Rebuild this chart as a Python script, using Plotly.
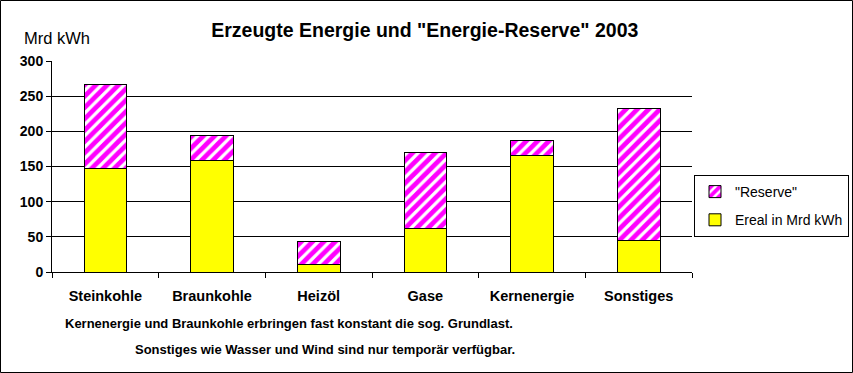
import plotly.graph_objects as go

categories = ["Steinkohle", "Braunkohle", "Heizöl", "Gase", "Kernenergie", "Sonstiges"]
ereal = [147, 158, 11, 62, 165, 45]
reserve = [120, 36, 33, 108, 22, 187]
y_ticks = [0, 50, 100, 150, 200, 250, 300]

W, H = 853, 373
L, R, T, B = 52, 161, 61, 101
pw, ph = W - L - R, H - T - B

def px_x(px):
    return (px - L) / pw

def px_y(py):
    return (H - B - py) / ph

FONT = "Liberation Sans, Arial, sans-serif"
NARROW = "Liberation Sans Narrow, Arial Narrow, Liberation Sans"

fig = go.Figure()
fig.add_trace(go.Bar(
    x=categories, y=ereal, name="Ereal in Mrd kWh", legendgroup="a", legendrank=2,
    marker=dict(color="#FFFF00", line=dict(color="black", width=1)),
    width=0.4,
))
fig.add_trace(go.Bar(
    x=categories, y=reserve, name="\"Reserve\"", legendgroup="b", legendrank=1,
    marker=dict(color="white", line=dict(color="black", width=1),
                pattern=dict(shape="/", fgcolor="#FF00FF", bgcolor="white",
                             fgopacity=1, size=8, solidity=0.6)),
    width=0.4,
))

fig.update_layout(
    width=W, height=H,
    margin=dict(l=L, r=R, t=T, b=B, pad=0, autoexpand=False),
    barmode="stack",
    plot_bgcolor="white", paper_bgcolor="white",
    font=dict(family=FONT, color="black", size=14),
    title=dict(text="<b>Erzeugte Energie und \"Energie-Reserve\" 2003</b>",
               x=0.498, xref="container", xanchor="center",
               y=1 - 30 / H, yref="container", yanchor="middle",
               font=dict(size=19.5, family=FONT, color="black")),
    showlegend=True,
    legend=dict(x=px_x(694), y=px_y(175), xanchor="left", yanchor="top",
                traceorder="grouped", bordercolor="black", borderwidth=1,
                bgcolor="white", font=dict(size=14, family=FONT),
                itemwidth=30, tracegroupgap=7),
    xaxis=dict(type="category", showline=True, linecolor="black", linewidth=1,
               ticks="outside", tickson="boundaries", ticklen=5, tickcolor="black",
               tickfont=dict(size=14.5, family=FONT), ticklabelstandoff=11,
               showgrid=False, range=[-0.5, 5.5],
               tickvals=categories, ticktext=["<b>%s</b>" % c for c in categories]),
    yaxis=dict(range=[0, 300], tickvals=y_ticks, ticktext=["<b>%d</b>" % v for v in y_ticks],
               showline=True, linecolor="black", linewidth=1,
               ticks="outside", ticklen=5, tickcolor="black",
               showgrid=True, gridcolor="black", gridwidth=1,
               tickfont=dict(size=14, family=FONT), zeroline=False),
    annotations=[
        dict(text="Mrd kWh", xref="paper", yref="paper", x=px_x(22), y=px_y(38),
             xanchor="left", yanchor="middle", showarrow=False, font=dict(size=16.5)),
        dict(text="<b>Kernenergie und Braunkohle erbringen fast konstant die sog. Grundlast.</b>",
             xref="paper", yref="paper", x=px_x(63), y=px_y(323.5),
             xanchor="left", yanchor="middle", showarrow=False,
             font=dict(size=13, family=NARROW)),
        dict(text="<b>Sonstiges wie Wasser und Wind sind nur temporär verfügbar.</b>",
             xref="paper", yref="paper", x=px_x(133), y=px_y(349.5),
             xanchor="left", yanchor="middle", showarrow=False,
             font=dict(size=13, family=NARROW)),
    ],
    shapes=[
        dict(type="rect", xref="paper", yref="paper",
             x0=px_x(0.5), x1=px_x(852.5), y0=px_y(372.5), y1=px_y(0.5),
             line=dict(color="black", width=1), fillcolor="rgba(0,0,0,0)", layer="above"),
    ],
)

fig.write_html("out.html", config={"displayModeBar": False},
               post_script="document.body.style.margin='0px';document.body.style.overflow='hidden';")
